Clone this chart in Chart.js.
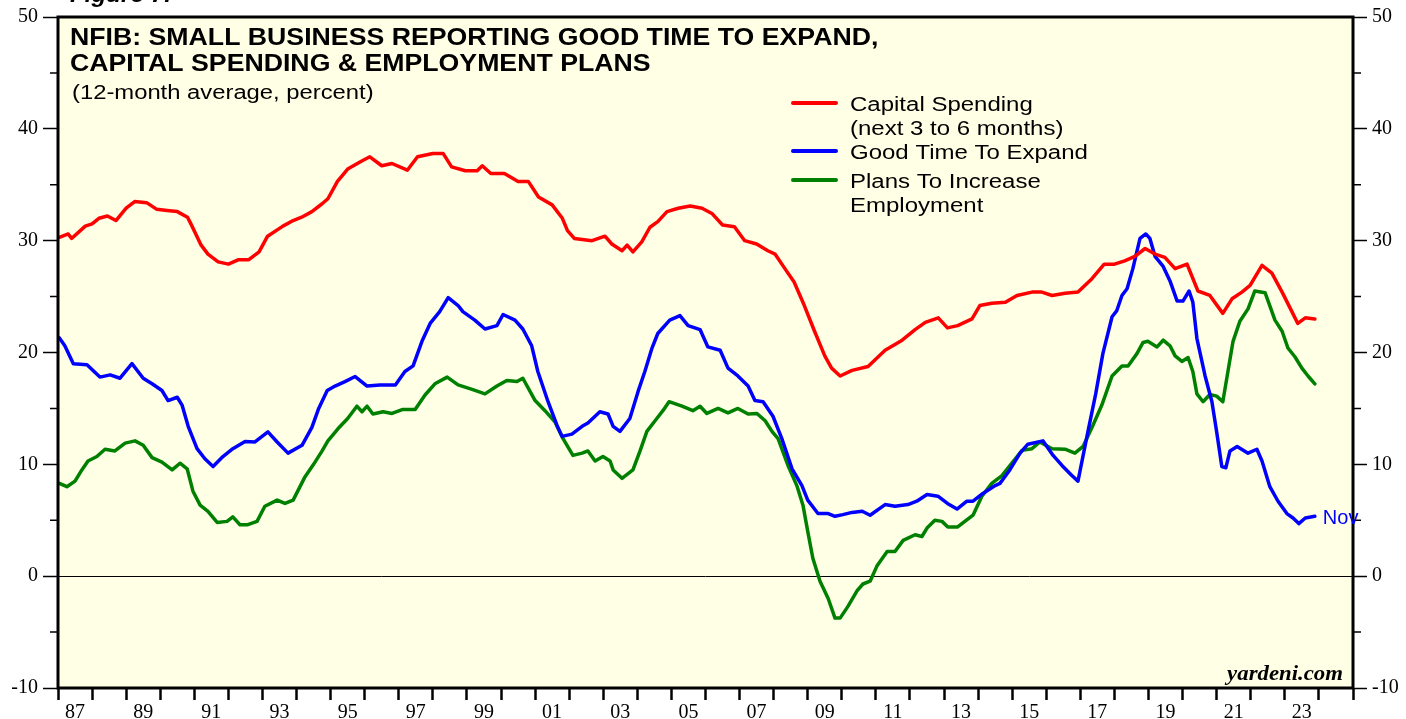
<!DOCTYPE html>
<html>
<head>
<meta charset="utf-8">
<script src="https://cdn.jsdelivr.net/npm/chart.js@4.4.1/dist/chart.umd.min.js"></script>
<style>
  html, body { margin: 0; padding: 0; background: #fff; }
  #wrap { width: 1406px; height: 719px; position: relative; }
</style>
</head>
<body>
<div id="wrap"><canvas id="myChart"></canvas></div>
<script>
// x positions are decimal years, values in percent (12-month average)
const capYears = [1987.04,1987.3,1987.4,1987.8,1988.0,1988.2,1988.45,1988.7,1989.0,1989.25,1989.6,1989.9,1990.2,1990.5,1990.8,1990.9,1991.2,1991.4,1991.7,1992.0,1992.3,1992.6,1992.9,1993.15,1993.6,1993.9,1994.15,1994.45,1994.75,1994.92,1995.2,1995.5,1995.9,1996.15,1996.5,1996.8,1997.25,1997.55,1998.0,1998.3,1998.55,1998.95,1999.3,1999.45,1999.7,2000.1,2000.5,2000.8,2001.1,2001.5,2001.8,2001.95,2002.15,2002.67,2003.05,2003.25,2003.55,2003.7,2003.87,2004.13,2004.37,2004.6,2004.87,2005.2,2005.55,2005.9,2006.2,2006.5,2006.85,2007.15,2007.5,2007.83,2008.04,2008.33,2008.6,2008.9,2009.2,2009.5,2009.7,2009.95,2010.3,2010.77,2011.27,2011.77,2012.15,2012.45,2012.83,2013.1,2013.4,2013.82,2014.05,2014.4,2014.8,2015.14,2015.58,2015.87,2016.17,2016.55,2016.93,2017.34,2017.7,2018.0,2018.3,2018.6,2018.9,2019.19,2019.48,2019.78,2020.13,2020.45,2020.8,2021.18,2021.45,2021.74,2021.98,2022.33,2022.62,2022.92,2023.2,2023.38,2023.6,2023.88];
const capValues = [30.3,30.6,30.2,31.3,31.5,32.0,32.2,31.8,32.9,33.5,33.4,32.8,32.7,32.6,32.1,31.5,29.6,28.8,28.1,27.9,28.3,28.3,29.0,30.4,31.3,31.8,32.1,32.6,33.3,33.75,35.3,36.4,37.1,37.5,36.7,36.9,36.3,37.5,37.8,37.8,36.6,36.25,36.25,36.7,36.0,36.0,35.3,35.3,33.9,33.2,32.0,30.9,30.2,30.0,30.4,29.7,29.1,29.6,29.0,29.9,31.2,31.7,32.6,32.9,33.1,32.9,32.4,31.4,31.25,30.0,29.7,29.1,28.8,27.5,26.3,24.2,21.9,19.7,18.6,17.9,18.4,18.75,20.2,21.1,22.05,22.7,23.1,22.2,22.4,23.0,24.2,24.4,24.5,25.1,25.4,25.4,25.1,25.3,25.4,26.6,27.9,27.9,28.2,28.6,29.3,28.8,28.5,27.5,27.9,25.5,25.1,23.5,24.8,25.4,26.0,27.8,27.1,25.4,23.7,22.6,23.1,23.0];

const expandYears = [1987.04,1987.2,1987.45,1987.85,1988.23,1988.53,1988.82,1989.17,1989.5,1989.76,1990.05,1990.23,1990.5,1990.64,1990.82,1991.08,1991.31,1991.55,1991.84,1992.13,1992.49,1992.78,1993.16,1993.43,1993.75,1994.16,1994.45,1994.65,1994.9,1995.13,1995.42,1995.72,1996.07,1996.45,1996.9,1997.18,1997.42,1997.68,1997.92,1998.2,1998.45,1998.74,1998.88,1999.23,1999.53,1999.88,2000.06,2000.41,2000.64,2000.9,2001.08,2001.38,2001.64,2001.79,2002.08,2002.38,2002.55,2002.9,2003.14,2003.29,2003.49,2003.78,2004.02,2004.22,2004.43,2004.6,2004.95,2005.25,2005.49,2005.84,2006.07,2006.43,2006.66,2006.95,2007.25,2007.45,2007.69,2007.98,2008.24,2008.54,2008.83,2009.0,2009.3,2009.6,2009.8,2010.03,2010.3,2010.6,2010.83,2011.27,2011.56,2011.94,2012.2,2012.5,2012.82,2013.1,2013.38,2013.67,2013.85,2014.14,2014.5,2014.64,2014.93,2015.23,2015.46,2015.9,2016.2,2016.46,2016.75,2016.93,2017.22,2017.45,2017.66,2017.93,2018.07,2018.22,2018.37,2018.54,2018.75,2018.92,2019.04,2019.19,2019.43,2019.63,2019.84,2020.01,2020.19,2020.3,2020.42,2020.66,2020.86,2021.0,2021.15,2021.27,2021.39,2021.6,2021.92,2022.18,2022.33,2022.56,2022.8,2023.06,2023.24,2023.41,2023.6,2023.88];
const expandValues = [21.3,20.6,19.0,18.9,17.8,18.0,17.7,19.0,17.7,17.2,16.6,15.7,16.0,15.3,13.4,11.4,10.5,9.8,10.7,11.4,12.05,12.0,12.9,12.0,11.0,11.7,13.3,15.0,16.6,17.0,17.4,17.85,17.0,17.1,17.1,18.3,18.8,21.0,22.6,23.65,24.9,24.2,23.65,22.9,22.1,22.4,23.4,22.9,22.1,20.6,18.3,15.6,13.5,12.5,12.7,13.4,13.7,14.7,14.5,13.4,12.95,14.1,16.5,18.3,20.4,21.7,22.9,23.3,22.4,22.05,20.5,20.2,18.6,17.9,17.0,15.7,15.6,14.3,12.3,9.6,8.1,6.8,5.6,5.6,5.35,5.5,5.7,5.8,5.45,6.4,6.25,6.4,6.7,7.3,7.15,6.5,6.0,6.7,6.7,7.4,8.1,8.3,9.5,11.0,11.8,12.1,10.8,9.9,9.0,8.5,12.9,16.3,19.9,23.2,23.75,25.1,25.7,27.5,30.2,30.6,30.2,28.6,27.7,26.4,24.6,24.6,25.5,24.5,21.25,17.9,15.6,12.9,9.8,9.7,11.2,11.6,11.0,11.35,10.3,8.0,6.7,5.6,5.2,4.7,5.2,5.35];

const hiringYears = [1987.04,1987.26,1987.5,1987.7,1987.88,1988.14,1988.38,1988.67,1988.97,1989.26,1989.5,1989.76,1990.05,1990.35,1990.58,1990.79,1990.96,1991.17,1991.4,1991.67,1991.96,1992.13,1992.34,1992.57,1992.84,1993.07,1993.43,1993.66,1993.9,1994.25,1994.5,1994.75,1994.92,1995.22,1995.5,1995.77,1995.92,1996.07,1996.24,1996.54,1996.8,1997.1,1997.48,1997.77,1998.06,1998.42,1998.74,1999.15,1999.53,1999.88,2000.17,2000.47,2000.64,2001.0,2001.29,2001.58,2001.82,2002.11,2002.38,2002.55,2002.76,2002.99,2003.2,2003.29,2003.55,2003.87,2004.08,2004.28,2004.52,2004.75,2004.93,2005.31,2005.63,2005.84,2006.04,2006.37,2006.66,2006.95,2007.25,2007.51,2007.75,2007.95,2008.13,2008.42,2008.68,2008.86,2009.0,2009.15,2009.36,2009.6,2009.8,2009.95,2010.18,2010.45,2010.62,2010.83,2011.03,2011.33,2011.56,2011.8,2012.15,2012.35,2012.5,2012.73,2012.94,2013.11,2013.4,2013.61,2013.85,2014.11,2014.4,2014.7,2014.99,2015.29,2015.58,2015.81,2016.17,2016.55,2016.84,2017.08,2017.37,2017.63,2017.93,2018.22,2018.4,2018.66,2018.84,2018.98,2019.25,2019.43,2019.63,2019.78,2019.98,2020.16,2020.3,2020.42,2020.6,2020.8,2021.0,2021.18,2021.33,2021.48,2021.68,2021.92,2022.12,2022.42,2022.71,2022.92,2023.09,2023.3,2023.5,2023.68,2023.88];
const hiringValues = [8.3,8.0,8.5,9.5,10.3,10.7,11.35,11.2,11.9,12.1,11.7,10.6,10.2,9.5,10.1,9.6,7.6,6.35,5.8,4.8,4.9,5.3,4.6,4.6,4.9,6.25,6.8,6.5,6.8,8.9,10.0,11.2,12.1,13.2,14.1,15.2,14.7,15.2,14.5,14.7,14.55,14.9,14.9,16.2,17.2,17.8,17.1,16.7,16.3,17.0,17.5,17.4,17.7,15.7,14.8,13.8,12.3,10.8,11.0,11.2,10.3,10.7,10.3,9.5,8.75,9.5,11.2,12.95,13.9,14.8,15.6,15.2,14.8,15.2,14.55,15.0,14.6,15.0,14.5,14.55,13.9,12.95,12.3,9.9,8.1,6.35,4.0,1.6,-0.45,-2.0,-3.75,-3.75,-2.7,-1.3,-0.7,-0.45,0.9,2.2,2.2,3.2,3.7,3.55,4.3,5.0,4.9,4.4,4.4,4.9,5.45,7.15,8.3,9.0,10.1,11.25,11.4,12.0,11.4,11.35,11.0,11.6,13.5,15.3,17.9,18.8,18.8,19.9,20.9,21.0,20.5,21.1,20.6,19.7,19.2,19.55,18.3,16.3,15.6,16.25,16.1,15.6,18.3,21.0,22.8,23.9,25.5,25.35,22.9,21.9,20.4,19.6,18.6,17.9,17.2];

const xTickLabels = ['87','89','91','93','95','97','99','01','03','05','07','09','11','13','15','17','19','21','23'];
const seriesNames = ['Capital Spending', 'Good Time To Expand', 'Plans To Increase Employment'];
const seriesColors = ['#ff0000', '#0000ff', '#008000'];

function toPoints(xs, ys) {
  return xs.map((x, i) => ({ x: x, y: ys[i] }));
}

// draws text stretched horizontally, like the original export
function wideText(ctx, text, x, y, font, color, sx, align) {
  ctx.save();
  ctx.font = font;
  ctx.fillStyle = color;
  ctx.textBaseline = 'alphabetic';
  ctx.translate(x, y);
  ctx.scale(sx, 1);
  const w = ctx.measureText(text).width;
  ctx.fillText(text, align === 'right' ? -w : 0, 0);
  ctx.restore();
}

const decor = {
  id: 'decor',
  beforeDraw(chart) {
    const { ctx, chartArea: a } = chart;
    ctx.save();
    ctx.fillStyle = '#ffffff';
    ctx.fillRect(0, 0, chart.width, chart.height);
    ctx.fillStyle = '#ffffe6';
    ctx.fillRect(a.left, a.top, a.right - a.left, a.bottom - a.top);
    ctx.restore();
  },
  afterDraw(chart) {
    const { ctx, chartArea: a, scales } = chart;
    ctx.save();
    ctx.strokeStyle = '#000';
    ctx.lineWidth = 3;
    ctx.strokeRect(a.left, a.top, a.right - a.left, a.bottom - a.top);

    // minor ticks at the odd fives
    ctx.lineWidth = 1.5;
    for (let v = -5; v < 50; v += 10) {
      const py = scales.y.getPixelForValue(v);
      ctx.beginPath();
      ctx.moveTo(a.left - 8, py); ctx.lineTo(a.left, py);
      ctx.moveTo(a.right, py); ctx.lineTo(a.right + 8, py);
      ctx.stroke();
    }
    ctx.restore();

    // header
    wideText(ctx, 'Figure 7.', 70, 2, 'italic bold 22px "Liberation Sans"', '#000', 1.1);
    wideText(ctx, 'NFIB: SMALL BUSINESS REPORTING GOOD TIME TO EXPAND,', a.left + 12, 45, 'bold 23px "Liberation Sans"', '#000', 1.16);
    wideText(ctx, 'CAPITAL SPENDING & EMPLOYMENT PLANS', a.left + 12, 71, 'bold 23px "Liberation Sans"', '#000', 1.16);
    wideText(ctx, '(12-month average, percent)', a.left + 14, 99, '20px "Liberation Sans"', '#000', 1.19);

    // legend
    const legend = [
      { color: seriesColors[0], lineY: 103, lines: ['Capital Spending', '(next 3 to 6 months)'], y: 111 },
      { color: seriesColors[1], lineY: 151, lines: ['Good Time To Expand'], y: 159 },
      { color: seriesColors[2], lineY: 180, lines: ['Plans To Increase', 'Employment'], y: 188 }
    ];
    ctx.save();
    ctx.lineWidth = 4;
    ctx.lineCap = 'round';
    legend.forEach(item => {
      ctx.strokeStyle = item.color;
      ctx.beginPath();
      ctx.moveTo(793, item.lineY); ctx.lineTo(836, item.lineY);
      ctx.stroke();
      item.lines.forEach((t, i) => {
        wideText(ctx, t, 850, item.y + i * 24, '20px "Liberation Sans"', '#000', 1.2);
      });
    });
    ctx.restore();

    // last-point label on the blue series
    const meta = chart.getDatasetMeta(1);
    const last = meta.data[meta.data.length - 1];
    wideText(ctx, 'Nov', last.x + 8, last.y + 8, '20px "Liberation Sans"', seriesColors[1], 1.0);

    wideText(ctx, 'yardeni.com', a.right - 10, a.bottom - 8, 'italic bold 20px "Liberation Serif"', '#000', 1.14, 'right');
  }
};

const data = {
  datasets: [
    { label: seriesNames[0], data: toPoints(capYears, capValues), borderColor: seriesColors[0], yAxisID: 'y' },
    { label: seriesNames[1], data: toPoints(expandYears, expandValues), borderColor: seriesColors[1], yAxisID: 'y' },
    { label: seriesNames[2], data: toPoints(hiringYears, hiringValues), borderColor: seriesColors[2], yAxisID: 'y' }
  ]
};

const yTicks = {
  stepSize: 5,
  maxTicksLimit: 30,
  color: '#000',
  font: { family: 'Liberation Serif', size: 20 },
  callback: v => (v % 10 === 0 ? String(v) : '')
};

const config = {
  type: 'line',
  data,
  options: {
    responsive: true,
    maintainAspectRatio: false,
    animation: false,
    layout: { padding: { top: 17, left: 0, right: 0, bottom: 0 } },
    elements: {
      line: { borderWidth: 3.5, tension: 0, borderJoinStyle: 'round', borderCapStyle: 'round' },
      point: { radius: 0 }
    },
    plugins: { legend: { display: false }, tooltip: { enabled: false } },
    scales: {
      x: {
        type: 'linear',
        min: 1987,
        max: 2025,
        afterFit: s => { s.height = 31; },
        border: { display: false },
        grid: { drawOnChartArea: false, tickLength: 12, tickWidth: 2.5, tickColor: '#000' },
        ticks: {
          stepSize: 1,
          maxTicksLimit: 60,
          autoSkip: false,
          maxRotation: 0,
          labelOffset: 17,
          padding: 1,
          color: '#000',
          font: { family: 'Liberation Serif', size: 20 },
          callback: v => {
            const k = (v - 1987) / 2;
            return Number.isInteger(k) && k < xTickLabels.length ? xTickLabels[k] : '';
          }
        }
      },
      y: {
        position: 'left',
        min: -10,
        max: 50,
        afterFit: s => { s.width = 58; },
        border: { display: false },
        grid: {
          color: c => (c.tick && c.tick.value === 0 ? '#000' : 'rgba(0,0,0,0)'),
          lineWidth: 1,
          tickLength: 15,
          tickWidth: 1.5,
          tickColor: c => (c.tick && c.tick.value % 10 === 0 ? '#000' : 'rgba(0,0,0,0)')
        },
        ticks: Object.assign({ padding: 5 }, yTicks)
      },
      y2: {
        position: 'right',
        min: -10,
        max: 50,
        afterFit: s => { s.width = 53; },
        border: { display: false },
        grid: {
          drawOnChartArea: false,
          tickLength: 14,
          tickWidth: 1.5,
          tickColor: c => (c.tick && c.tick.value % 10 === 0 ? '#000' : 'rgba(0,0,0,0)')
        },
        ticks: Object.assign({ padding: 5 }, yTicks)
      }
    }
  },
  plugins: [decor]
};

const myChart = new Chart(document.getElementById('myChart'), config);
</script>
</body>
</html>
